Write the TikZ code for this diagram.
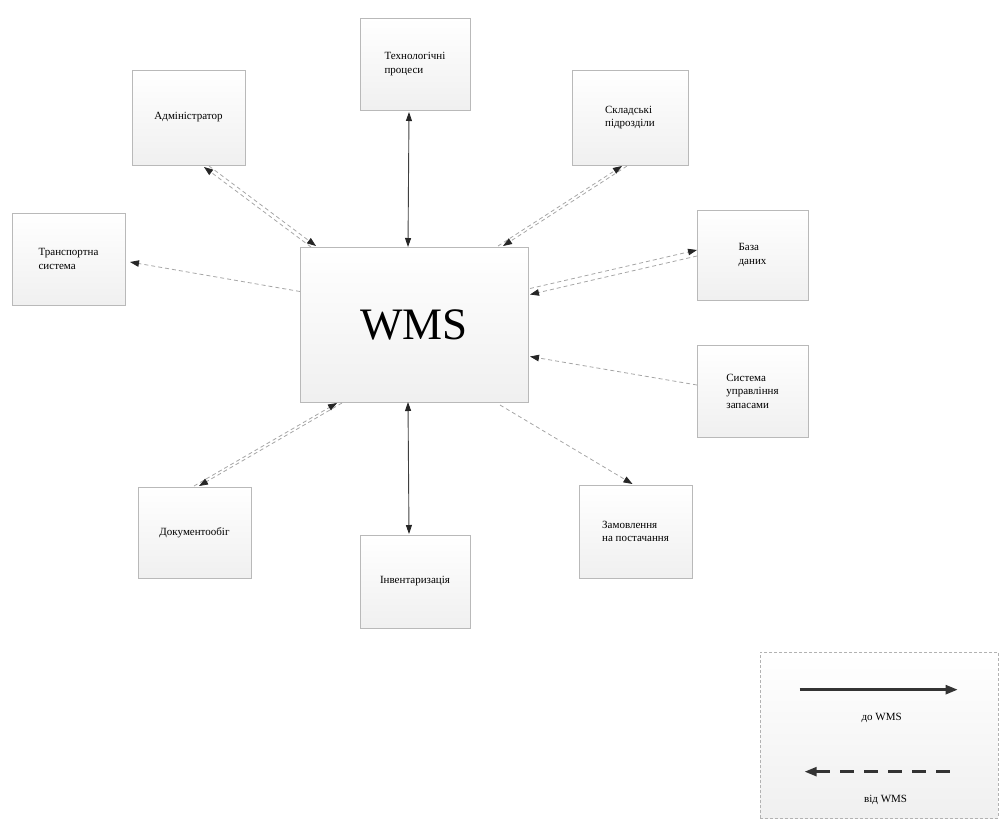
\documentclass[tikz,border=0pt]{standalone}
\usepackage{fontspec}
\setmainfont{Liberation Serif}
\usetikzlibrary{arrows.meta,calc}
\begin{document}
\begin{tikzpicture}[x=1pt,y=-1pt,
  box/.style={draw=gray!55, line width=0.8pt, top color=white, bottom color=gray!12,
    inner sep=0pt, outer sep=0pt, align=left, font=\fontsize{11}{13.5}\selectfont},
  tip/.style={-{Triangle[length=9pt,width=6.5pt,color=black!85]}},
  solidlink/.style={draw=black!75, line width=0.9pt,
    {Triangle[length=9pt,width=6pt,color=black!85]}-{Triangle[length=9pt,width=6pt,color=black!85]}},
  dashlink/.style={draw=gray!70, line width=0.8pt, dash pattern=on 4pt off 3pt, tip}]
\useasboundingbox (0,0) rectangle (1001,820);

% central system
\node[box, minimum width=228pt, minimum height=155pt, font=\fontsize{45}{50}\selectfont]
  (wms) at (414,324.5) {WMS};

% surrounding participants
\node[box, minimum width=110pt, minimum height=92pt] (tech) at (415,64) {Технологічні\\процеси};
\node[box, minimum width=113pt, minimum height=95pt] (adm)  at (188.5,117.5) {Адміністратор};
\node[box, minimum width=116pt, minimum height=95pt] (skl)  at (630,117.5) {Складські\\підрозділи};
\node[box, minimum width=113pt, minimum height=92pt] (trn)  at (68.5,259) {Транспортна\\система};
\node[box, minimum width=111pt, minimum height=90pt] (db)   at (752.5,255) {База\\даних};
\node[box, minimum width=111pt, minimum height=92pt] (inv2) at (752.5,391) {Система\\управління\\запасами};
\node[box, minimum width=113pt, minimum height=93pt] (ord)  at (635.5,531.5) {Замовлення\\на постачання};
\node[box, minimum width=113pt, minimum height=91pt] (doc)  at (194.5,532.5) {Документообіг};
\node[box, minimum width=110pt, minimum height=93pt] (inv)  at (415,581.5) {Інвентаризація};

% two-way solid links
\draw[solidlink] ([shift={(-6,2)}]tech.south) -- ([shift={(-6,0)}]wms.north);
\draw[solidlink] ([shift={(-6,0)}]wms.south) -- ([shift={(-6,-1)}]inv.north);

% two-way dashed links (pairs of parallel lines)
\draw[dashlink] ([shift={(20.5,1)}]adm.south) -- ([shift={(16,-1)}]wms.north west);
\draw[dashlink] ([shift={(11,0)}]wms.north west) -- ([shift={(15.5,2)}]adm.south);
\draw[dashlink] ([shift={(-3,1)}]skl.south) -- ([shift={(-25,-1)}]wms.north east);
\draw[dashlink] ([shift={(-30,-1)}]wms.north east) -- ([shift={(-8,1)}]skl.south);
\draw[dashlink] ([shift={(2,-36)}]wms.east) -- ([shift={(0,-5)}]db.west);
\draw[dashlink] ([shift={(0,1)}]db.west) -- ([shift={(2,-30)}]wms.east);
\draw[dashlink] ([shift={(-0.5,-1)}]doc.north) -- ([shift={(37,1)}]wms.south west);
\draw[dashlink] ([shift={(42,1)}]wms.south west) -- ([shift={(4.5,-1)}]doc.north);

% one-way dashed links
\draw[dashlink] ([shift={(0,-33)}]wms.west) -- ([shift={(5,3)}]trn.east);
\draw[dashlink] ([shift={(0,-6)}]inv2.west) -- ([shift={(2,32)}]wms.east);
\draw[dashlink] ([shift={(-28,3)}]wms.south east) -- ([shift={(-3,-1)}]ord.north);

% legend
\node[draw=gray!60, dash pattern=on 3pt off 2pt, line width=0.7pt, top color=white, bottom color=gray!12,
  minimum width=238pt, minimum height=166pt, inner sep=0pt] (leg) at (879,735) {};
\coordinate (la) at ($(leg.north west)+(40,38)$);
\coordinate (lb) at ($(leg.north west)+(198,38)$);
\coordinate (lc) at ($(leg.north west)+(190,120)$);
\coordinate (ld) at ($(leg.north west)+(45,120)$);
\draw[draw=black!80, line width=2.4pt, -{Triangle[length=12pt,width=9pt]}] (la) -- (lb);
\draw[draw=black!80, line width=2.4pt, dash pattern=on 14pt off 10pt, -{Triangle[length=12pt,width=9pt]}] (lc) -- (ld);
\node[font=\fontsize{11}{13}\selectfont] (lt1) at ($(leg.north west)+(122,66)$) {до WMS};
\node[font=\fontsize{11}{13}\selectfont] (lt2) at ($(leg.north west)+(126,148)$) {від WMS};
\end{tikzpicture}
\end{document}
